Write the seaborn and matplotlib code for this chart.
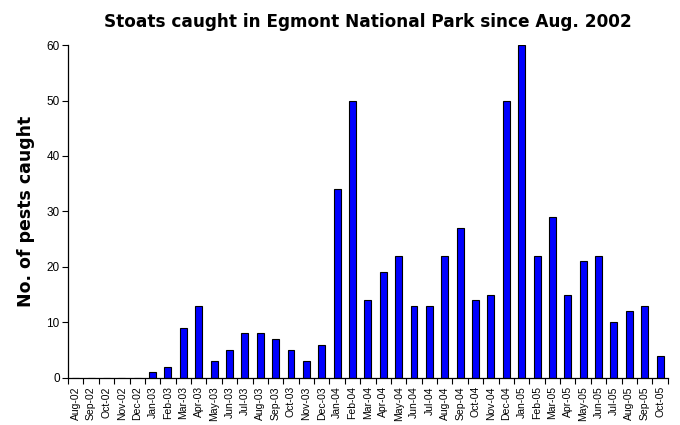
import numpy as np
import pandas as pd
import matplotlib
matplotlib.use("Agg")
import matplotlib.pyplot as plt
import seaborn as sns

months = [
    "Aug-02", "Sep-02", "Oct-02", "Nov-02", "Dec-02",
    "Jan-03", "Feb-03", "Mar-03", "Apr-03", "May-03", "Jun-03",
    "Jul-03", "Aug-03", "Sep-03", "Oct-03", "Nov-03", "Dec-03",
    "Jan-04", "Feb-04", "Mar-04", "Apr-04", "May-04", "Jun-04",
    "Jul-04", "Aug-04", "Sep-04", "Oct-04", "Nov-04", "Dec-04",
    "Jan-05", "Feb-05", "Mar-05", "Apr-05", "May-05", "Jun-05",
    "Jul-05", "Aug-05", "Sep-05", "Oct-05",
]
caught = [
    0, 0, 0, 0, 0,
    1, 2, 9, 13, 3, 5,
    8, 8, 7, 5, 3, 6,
    34, 50, 14, 19, 22, 13,
    13, 22, 27, 14, 15, 50,
    60, 22, 29, 15, 21, 22,
    10, 12, 13, 4,
]

df = pd.DataFrame({"month": months, "caught": caught})

sns.set_style("white", {"text.color": "black", "xtick.color": "black",
                        "ytick.color": "black", "axes.labelcolor": "black"})
plt.rcParams["font.family"] = ["Liberation Sans", "DejaVu Sans"]

fig, ax = plt.subplots(figsize=(6.8, 4.25), dpi=100)
fig.subplots_adjust(left=0.1, right=0.982, top=0.894, bottom=0.111)

sns.barplot(data=df, x="month", y="caught", color="#0000FF", saturation=1,
            width=0.45, edgecolor="black", linewidth=0.8, ax=ax)

ax.set_ylim(0, 60)
ax.set_xlim(-0.5, len(months) - 0.5)
ax.set_yticks(range(0, 61, 10))
ax.tick_params(axis="y", labelsize=8.5, length=4, width=0.8, direction="out",
               left=True, pad=2)

# labels centred under bars, tick marks at category boundaries
ax.set_xticks(range(len(months)))
ax.set_xticklabels(months, rotation=90, fontsize=7.5)
ax.set_xticks(np.arange(-0.5, len(months)), minor=True)
ax.tick_params(axis="x", which="major", length=0, pad=6)
ax.tick_params(axis="x", which="minor", length=4, width=0.8, direction="out",
               bottom=True)

sns.despine(ax=ax)
for s in ["left", "bottom"]:
    ax.spines[s].set_color("black")
    ax.spines[s].set_linewidth(0.9)

ax.set_xlabel("")
ax.set_ylabel("No. of pests caught", fontsize=12.5, fontweight="bold", labelpad=8,
              family=["DejaVu Sans"])
ax.set_title("Stoats caught in Egmont National Park since Aug. 2002",
             fontsize=12.2, fontweight="bold", pad=13,
             family=["DejaVu Sans"])

fig.savefig("out.png", dpi=100)
